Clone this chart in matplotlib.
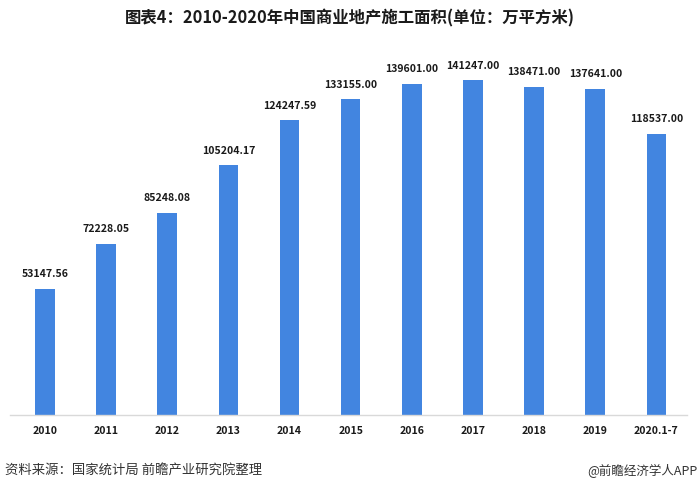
import matplotlib
matplotlib.use("Agg")
import matplotlib.pyplot as plt

plt.rcParams['font.family'] = ['Noto Sans CJK SC', 'DejaVu Sans']

categories = ["2010", "2011", "2012", "2013", "2014", "2015", "2016", "2017", "2018", "2019", "2020.1-7"]
values = [53147.56, 72228.05, 85248.08, 105204.17, 124247.59, 133155.00, 139601.00, 141247.00, 138471.00, 137641.00, 118537.00]
title = "图表4：2010-2020年中国商业地产施工面积(单位：万平方米)"
source = "资料来源：国家统计局 前瞻产业研究院整理"
brand = "@前瞻经济学人APP"

fig = plt.figure(figsize=(7, 4.93), dpi=100)
ax = fig.add_axes([10/700, 1 - 415/493, 677/700, 370/493])
x = list(range(len(categories)))
ax.bar(x, values, width=0.32, color="#4285E0", zorder=2)
for xi, v in zip(x, values):
    ax.text(xi, v + 4000, f"{v:.2f}", ha="center", va="bottom", fontsize=7.6,
            fontweight="bold", color="#1a1a1a")
ax.set_xlim(-0.57, 10.5)
ax.set_ylim(0, 156000)
ax.set_xticks(x)
ax.set_xticklabels(categories, fontsize=7.6, fontweight="bold", color="#1a1a1a")
ax.tick_params(axis="x", length=0, pad=8)
ax.set_yticks([])
for s in ["top", "right", "left"]:
    ax.spines[s].set_visible(False)
ax.spines["bottom"].set_color("#d9d9d9")
ax.spines["bottom"].set_linewidth(1)

fig.text(0.5, 1 - 18/493, title, ha="center", va="center", fontsize=11.8,
         fontweight="bold", color="#1a1a1a")
fig.text(5/700, 1 - 471/493, source, ha="left", va="center", fontsize=9.6, color="#333333")
fig.text(697/700, 1 - 471/493, brand, ha="right", va="center", fontsize=9, color="#333333")

fig.savefig("out.png", dpi=100)
